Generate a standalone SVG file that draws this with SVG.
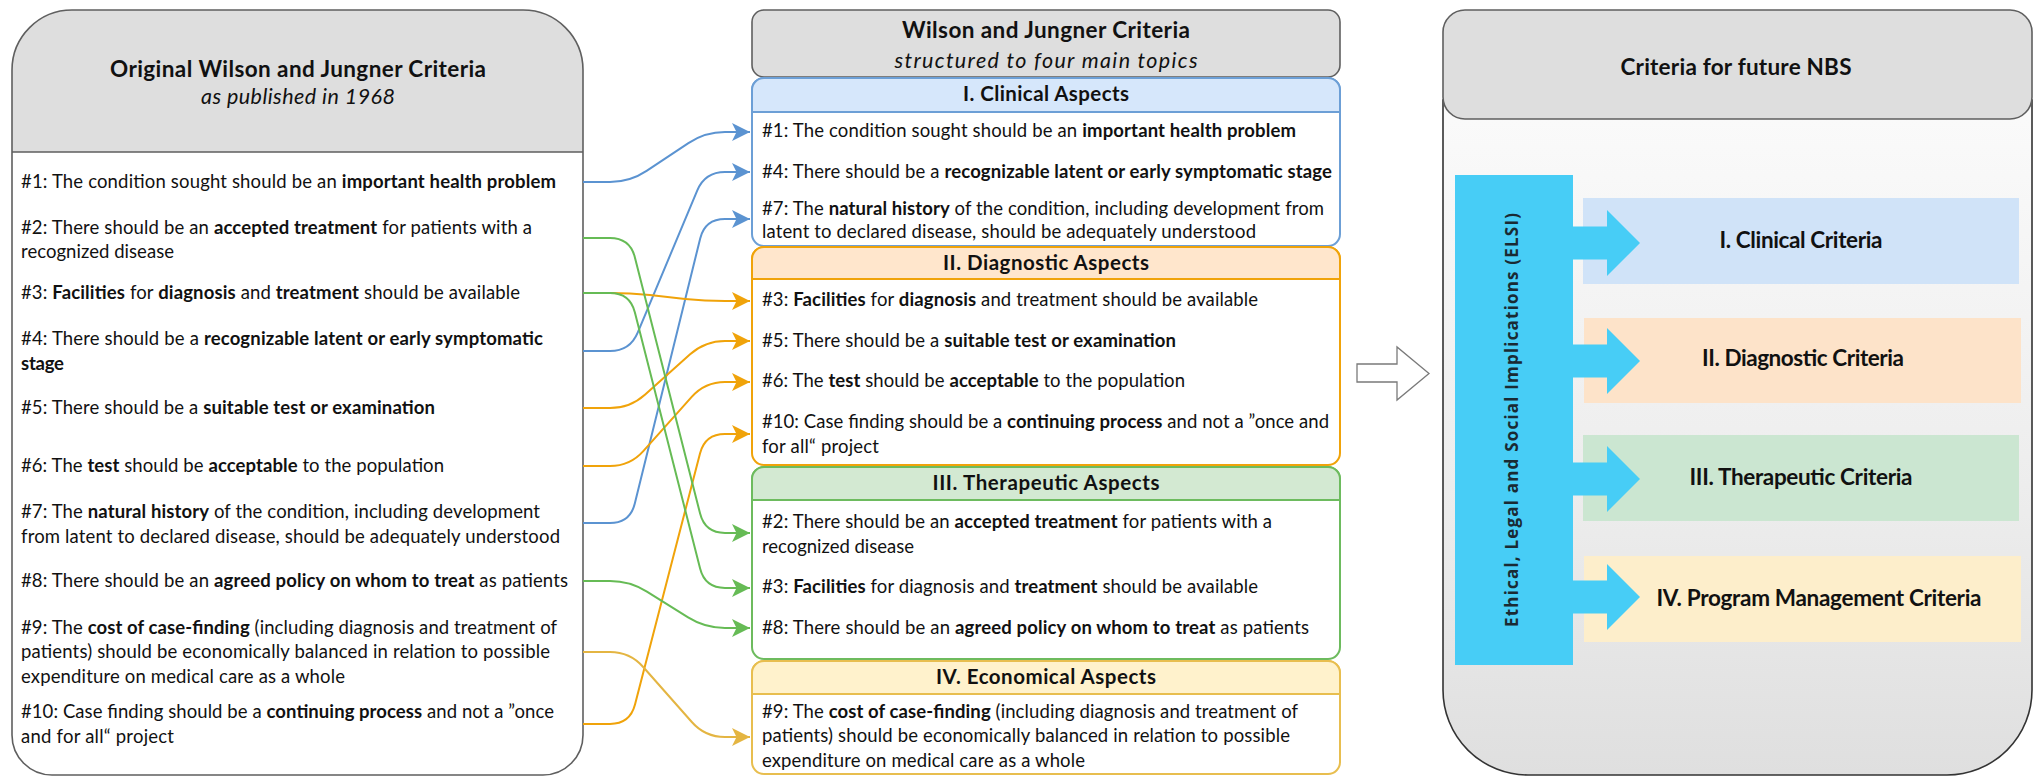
<svg xmlns="http://www.w3.org/2000/svg" width="2036" height="777" viewBox="0 0 2036 777">
<style>
text{font-family:Lato,"Open Sans","Liberation Sans",sans-serif;fill:#111}
.t{font-size:18.5px}
.b{font-weight:700}
.h{font-size:20.5px;font-weight:700}
.ti{font-size:22.5px;font-weight:700}
.it{font-size:21.5px;font-style:italic}
.c{stroke-width:2;fill:none}
.frame{stroke:#5f5f5f;stroke-width:1.6}
</style>
<defs>
<marker id="aB" markerUnits="userSpaceOnUse" markerWidth="18" markerHeight="18" viewBox="0 0 18 18" refX="18" refY="9" orient="auto"><path d="M0,0 L18,9 L0,18 L4.5,9 Z" fill="#5b93d1"/></marker>
<marker id="aO" markerUnits="userSpaceOnUse" markerWidth="18" markerHeight="18" viewBox="0 0 18 18" refX="18" refY="9" orient="auto"><path d="M0,0 L18,9 L0,18 L4.5,9 Z" fill="#f0a30a"/></marker>
<marker id="aG" markerUnits="userSpaceOnUse" markerWidth="18" markerHeight="18" viewBox="0 0 18 18" refX="18" refY="9" orient="auto"><path d="M0,0 L18,9 L0,18 L4.5,9 Z" fill="#66bb55"/></marker>
<marker id="aY" markerUnits="userSpaceOnUse" markerWidth="18" markerHeight="18" viewBox="0 0 18 18" refX="18" refY="9" orient="auto"><path d="M0,0 L18,9 L0,18 L4.5,9 Z" fill="#e4b542"/></marker>
<linearGradient id="bodyG" x1="0" y1="119" x2="0" y2="775" gradientUnits="userSpaceOnUse">
<stop offset="0" stop-color="#fafafa"/><stop offset="0.6" stop-color="#ececec"/><stop offset="1" stop-color="#dfdfdf"/>
</linearGradient>
</defs>

<!-- Left box -->
<g id="original-criteria">
<path d="M12,70 A60 60 0 0 1 72,10 H523 A60 60 0 0 1 583,70 V735 A40 40 0 0 1 543,775 H52 A40 40 0 0 1 12,735 Z" fill="#ffffff"/>
<path d="M12,152 V70 A60 60 0 0 1 72,10 H523 A60 60 0 0 1 583,70 V152 Z" fill="#dedede"/>
<path d="M12,70 A60 60 0 0 1 72,10 H523 A60 60 0 0 1 583,70 V735 A40 40 0 0 1 543,775 H52 A40 40 0 0 1 12,735 Z M12,152 H583" fill="none" class="frame"/>
<text class="ti" x="298" y="77" text-anchor="middle" textLength="376">Original Wilson and Jungner Criteria</text>
<text class="it" x="298" y="104" text-anchor="middle" textLength="194">as published in 1968</text>
<text class="t" x="21" y="188" textLength="535">#1: The condition sought should be an <tspan class="b">important health problem</tspan></text>
<text class="t" x="21" y="234" textLength="511">#2: There should be an <tspan class="b">accepted treatment</tspan> for patients with a</text>
<text class="t" x="21" y="258" textLength="153">recognized disease</text>
<text class="t" x="21" y="299" textLength="499">#3: <tspan class="b">Facilities</tspan> for <tspan class="b">diagnosis</tspan> and <tspan class="b">treatment</tspan> should be available</text>
<text class="t" x="21" y="345" textLength="522">#4: There should be a <tspan class="b">recognizable latent or early symptomatic</tspan></text>
<text class="t b" x="21" y="370" textLength="43">stage</text>
<text class="t" x="21" y="414" textLength="414">#5: There should be a <tspan class="b">suitable test or examination</tspan></text>
<text class="t" x="21" y="472" textLength="423">#6: The <tspan class="b">test</tspan> should be <tspan class="b">acceptable</tspan> to the population</text>
<text class="t" x="21" y="518" textLength="519">#7: The <tspan class="b">natural history</tspan> of the condition, including development</text>
<text class="t" x="21" y="543" textLength="539">from latent to declared disease, should be adequately understood</text>
<text class="t" x="21" y="587" textLength="547">#8: There should be an <tspan class="b">agreed policy on whom to treat</tspan> as patients</text>
<text class="t" x="21" y="634" textLength="536">#9: The <tspan class="b">cost of case-finding</tspan> (including diagnosis and treatment of</text>
<text class="t" x="21" y="658" textLength="529">patients) should be economically balanced in relation to possible</text>
<text class="t" x="21" y="683" textLength="324">expenditure on medical care as a whole</text>
<text class="t" x="21" y="718" textLength="533">#10: Case finding should be a <tspan class="b">continuing process</tspan> and not a ”once</text>
<text class="t" x="21" y="743" textLength="153">and for all“ project</text>
</g>

<!-- Middle column -->
<g id="structured-header">
<rect x="752" y="10" width="588" height="67" rx="12" fill="#dedede" class="frame"/>
<text class="ti" x="1046" y="38" text-anchor="middle" textLength="288">Wilson and Jungner Criteria</text>
<text class="it" x="1046" y="68" text-anchor="middle" textLength="303">structured to four main topics</text>
</g>

<g id="clinical-aspects">
<rect x="752" y="78" width="588" height="168" rx="12" fill="#ffffff" stroke="#6c9fd6" stroke-width="2"/>
<path d="M752,112 V90 A12 12 0 0 1 764,78 H1328 A12 12 0 0 1 1340,90 V112 Z" fill="#d6e7fb" stroke="#6c9fd6" stroke-width="2"/>
<text class="h" x="1046" y="101" text-anchor="middle" textLength="166">I. Clinical Aspects</text>
<text class="t" x="762" y="137" textLength="534">#1: The condition sought should be an <tspan class="b">important health problem</tspan></text>
<text class="t" x="762" y="178" textLength="570">#4: There should be a <tspan class="b">recognizable latent or early symptomatic stage</tspan></text>
<text class="t" x="762" y="215" textLength="562">#7: The <tspan class="b">natural history</tspan> of the condition, including development from</text>
<text class="t" x="762" y="238" textLength="494">latent to declared disease, should be adequately understood</text>
</g>

<g id="diagnostic-aspects">
<rect x="752" y="247" width="588" height="218" rx="12" fill="#ffffff" stroke="#f0a30a" stroke-width="2"/>
<path d="M752,279 V259 A12 12 0 0 1 764,247 H1328 A12 12 0 0 1 1340,259 V279 Z" fill="#ffe6cc" stroke="#f0a30a" stroke-width="2"/>
<text class="h" x="1046" y="270" text-anchor="middle" textLength="206">II. Diagnostic Aspects</text>
<text class="t" x="762" y="306" textLength="496">#3: <tspan class="b">Facilities</tspan> for <tspan class="b">diagnosis</tspan> and treatment should be available</text>
<text class="t" x="762" y="347" textLength="414">#5: There should be a <tspan class="b">suitable test or examination</tspan></text>
<text class="t" x="762" y="387" textLength="423">#6: The <tspan class="b">test</tspan> should be <tspan class="b">acceptable</tspan> to the population</text>
<text class="t" x="762" y="428" textLength="567">#10: Case finding should be a <tspan class="b">continuing process</tspan> and not a ”once and</text>
<text class="t" x="762" y="453" textLength="117">for all“ project</text>
</g>

<g id="therapeutic-aspects">
<rect x="752" y="467" width="588" height="192" rx="12" fill="#ffffff" stroke="#6dbb5e" stroke-width="2"/>
<path d="M752,500 V479 A12 12 0 0 1 764,467 H1328 A12 12 0 0 1 1340,479 V500 Z" fill="#d3e9d2" stroke="#6dbb5e" stroke-width="2"/>
<text class="h" x="1046" y="490" text-anchor="middle" textLength="227">III. Therapeutic Aspects</text>
<text class="t" x="762" y="528" textLength="510">#2: There should be an <tspan class="b">accepted treatment</tspan> for patients with a</text>
<text class="t" x="762" y="553" textLength="152">recognized disease</text>
<text class="t" x="762" y="593" textLength="496">#3: <tspan class="b">Facilities</tspan> for diagnosis and <tspan class="b">treatment</tspan> should be available</text>
<text class="t" x="762" y="634" textLength="547">#8: There should be an <tspan class="b">agreed policy on whom to treat</tspan> as patients</text>
</g>

<g id="economical-aspects">
<rect x="752" y="661" width="588" height="113" rx="12" fill="#ffffff" stroke="#e8be4f" stroke-width="2"/>
<path d="M752,694 V673 A12 12 0 0 1 764,661 H1328 A12 12 0 0 1 1340,673 V694 Z" fill="#fff2cc" stroke="#e8be4f" stroke-width="2"/>
<text class="h" x="1046" y="684" text-anchor="middle" textLength="220">IV. Economical Aspects</text>
<text class="t" x="762" y="718" textLength="536">#9: The <tspan class="b">cost of case-finding</tspan> (including diagnosis and treatment of</text>
<text class="t" x="762" y="742" textLength="528">patients) should be economically balanced in relation to possible</text>
<text class="t" x="762" y="767" textLength="323">expenditure on medical care as a whole</text>
</g>

<!-- Connectors -->
<g id="connectors">
<path class="c" stroke="#5b93d1" marker-end="url(#aB)" d="M583,182 L610,182 Q630,182 646.6,170.9 L688.4,143.1 Q705,132 725,132 L750,132"/>
<path class="c" stroke="#5b93d1" marker-end="url(#aB)" d="M583,351 L610,351 Q630,351 637.7,332.6 L697.3,190.4 Q705,172 725,172 L750,172"/>
<path class="c" stroke="#5b93d1" marker-end="url(#aB)" d="M583,523 L610,523 Q630,523 634.8,503.6 L700.2,238.4 Q705,219 725,219 L750,219"/>
<path class="c" stroke="#f0a30a" marker-end="url(#aO)" d="M583,293 L610,293 Q630,293 649.9,295.1 L685.1,298.9 Q705,301 725,301 L750,301"/>
<path class="c" stroke="#f0a30a" marker-end="url(#aO)" d="M583,408 L610,408 Q630,408 644.9,394.7 L690.1,354.3 Q705,341 725,341 L750,341"/>
<path class="c" stroke="#f0a30a" marker-end="url(#aO)" d="M583,466 L610,466 Q630,466 643.3,451.1 L691.7,396.9 Q705,382 725,382 L750,382"/>
<path class="c" stroke="#f0a30a" marker-end="url(#aO)" d="M583,724 L610,724 Q630,724 635,704.6 L700,453.4 Q705,434 725,434 L750,434"/>
<path class="c" stroke="#66bb55" marker-end="url(#aG)" d="M583,238 L610,238 Q630,238 634.9,257.4 L700.1,513.6 Q705,533 725,533 L750,533"/>
<path class="c" stroke="#66bb55" marker-end="url(#aG)" d="M583,293 L610,293 Q630,293 634.9,312.4 L700.1,568.6 Q705,588 725,588 L750,588"/>
<path class="c" stroke="#66bb55" marker-end="url(#aG)" d="M583,581 L610,581 Q630,581 646.9,591.6 L688.1,617.4 Q705,628 725,628 L750,628"/>
<path class="c" stroke="#e4b542" marker-end="url(#aY)" d="M583,652 L610,652 Q630,652 643.2,667 L691.8,722 Q705,737 725,737 L750,737"/>
</g>

<!-- Transition arrow -->
<g id="transition-arrow">
<path d="M1357,364 H1397 V347 L1429,373.5 L1397,400 V382 H1357 Z" fill="#ffffff" stroke="#7a7a7a" stroke-width="1.3"/>
</g>

<!-- Right panel -->
<g id="future-nbs">
<path d="M1443,100 V690 A85 85 0 0 0 1528,775 H1947 A85 85 0 0 0 2032,690 V100 Z" fill="url(#bodyG)" stroke="#333333" stroke-width="1.6"/>
<rect x="1443" y="10" width="589" height="109" rx="22" fill="#dedede" stroke="#5f5f5f" stroke-width="1.6"/>
<text class="ti" x="1736" y="75" text-anchor="middle" textLength="231">Criteria for future NBS</text>
</g>

<g id="clinical-criteria">
<rect x="1583" y="198" width="436" height="86" fill="#d0e3f8"/>
<text class="ti" x="1801" y="248" text-anchor="middle" textLength="163">I. Clinical Criteria</text>
</g>
<g id="diagnostic-criteria">
<rect x="1584" y="318" width="437" height="85" fill="#fde3c9"/>
<text class="ti" x="1803" y="366" text-anchor="middle" textLength="202">II. Diagnostic Criteria</text>
</g>
<g id="therapeutic-criteria">
<rect x="1583" y="435" width="436" height="86" fill="#cbe6d1"/>
<text class="ti" x="1801" y="485" text-anchor="middle" textLength="223">III. Therapeutic Criteria</text>
</g>
<g id="program-management-criteria">
<rect x="1584" y="556" width="437" height="86" fill="#fdeecb"/>
<text class="ti" x="1819" y="606" text-anchor="middle" textLength="325">IV. Program Management Criteria</text>
</g>

<g id="elsi">
<rect x="1455" y="175" width="118" height="490" fill="#47cdf6"/>
<path d="M1570,226.5 H1607 V210 L1640,243 L1607,276 V259.5 H1570 Z" fill="#47cdf6"/>
<path d="M1570,344.5 H1607 V328 L1640,361 L1607,394 V377.5 H1570 Z" fill="#47cdf6"/>
<path d="M1570,462.5 H1607 V446 L1640,479 L1607,512 V495.5 H1570 Z" fill="#47cdf6"/>
<path d="M1570,580.5 H1607 V564 L1640,597 L1607,630 V613.5 H1570 Z" fill="#47cdf6"/>
<text transform="translate(1518,420) rotate(-90)" text-anchor="middle" style="font-family:'Open Sans','DejaVu Sans',sans-serif;font-weight:700;font-size:17px;fill:#1a2a33" textLength="414">Ethical, Legal and Social Implications (ELSI)</text>
</g>
</svg>
